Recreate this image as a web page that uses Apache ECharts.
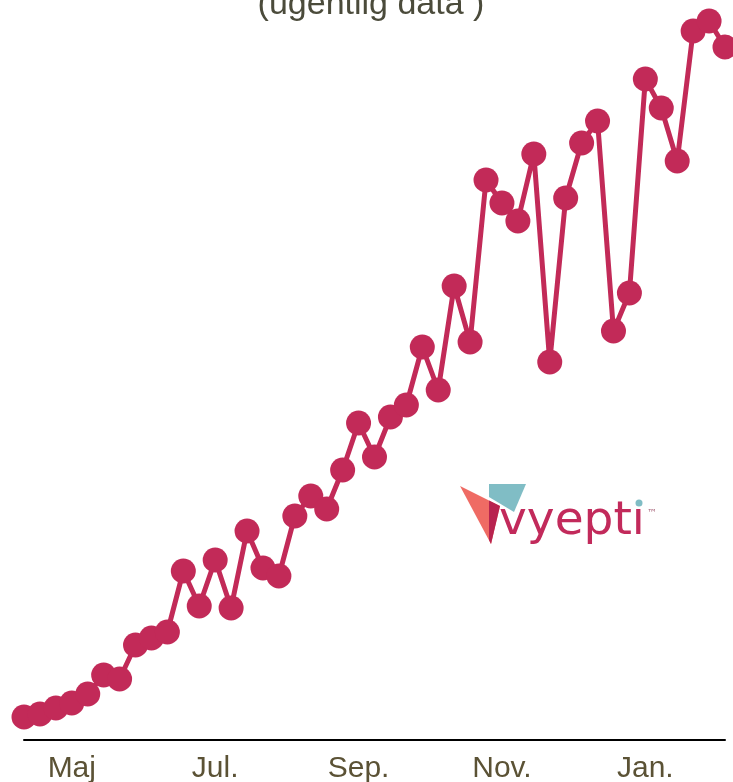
<!DOCTYPE html>
<html>
<head>
<meta charset="utf-8">
<script src="https://cdn.jsdelivr.net/npm/echarts@6/dist/echarts.min.js"></script>
<style>
  html, body { margin: 0; padding: 0; background: #fff; }
  #chart { width: 733px; height: 782px; }
</style>
</head>
<body>
<div id="chart"></div>
<script>
// weekly data points (index 0 = first week of April)
const weeks = [];
for (let i = 1; i <= 45; i++) weeks.push('Uge ' + i);
const values = [
  11.5, 13, 16, 18.5, 23, 32.5, 30.5, 47.5, 51, 54,
  84.5, 67, 90, 66, 104.5, 86, 82, 112, 122, 115.5,
  135, 158.5, 141.5, 161.5, 167.5, 196.5, 175, 227, 199, 280,
  268.5, 259.5, 293, 189, 271, 298.5, 309.5, 204.5, 223.5, 330.5,
  316, 289.5, 354.5, 359.5, 346.5
];
const tickIndex = [3, 12, 21, 30, 39];
const tickLabels = ['Maj', 'Jul.', 'Sep.', 'Nov.', 'Jan.'];

const chart = echarts.init(document.getElementById('chart'));
chart.setOption({
  animation: false,
  backgroundColor: '#fff',
  title: {
    text: '(ugentlig data )',
    left: 371,
    textAlign: 'center',
    top: -12,
    padding: 0,
    textStyle: {
      fontFamily: 'Liberation Sans',
      fontSize: 34,
      fontWeight: 'normal',
      color: '#4b4b3b'
    }
  },
  grid: { left: 24, right: 8, top: 0, bottom: 42, outerBoundsMode: 'none' },
  xAxis: {
    type: 'category',
    data: weeks,
    boundaryGap: false,
    axisLine: { lineStyle: { color: '#000', width: 2 } },
    axisTick: { show: false },
    axisLabel: {
      interval: (idx) => tickIndex.includes(idx),
      formatter: (v, idx) => tickLabels[tickIndex.indexOf(idx)] || '',
      fontFamily: 'Liberation Sans',
      fontSize: 30,
      color: '#5b5235',
      margin: 14
    }
  },
  yAxis: { type: 'value', min: 0, max: 370, show: false },
  series: [{
    type: 'line',
    data: values,
    symbol: 'circle',
    symbolSize: 25,
    showAllSymbol: true,
    lineStyle: { color: '#c22a58', width: 5 },
    itemStyle: { color: '#c22a58' }
  }],
  graphic: [
    { type: 'polygon', shape: { points: [[460, 486], [500, 506], [491, 544]] }, style: { fill: '#ef6b64' } },
    { type: 'polygon', shape: { points: [[489, 484], [526, 484], [514, 512], [489, 497]] }, style: { fill: '#80bdc5' } },
    { type: 'polygon', shape: { points: [[489, 500.5], [500, 506], [491, 544], [489, 540]] }, style: { fill: '#b8234f' } },
    { type: 'text', style: { text: 'vyeptı', x: 499, y: 522, font: '47px "DejaVu Sans"', fill: '#c22a5b', verticalAlign: 'middle', align: 'left' } },
    { type: 'circle', shape: { cx: 639, cy: 503, r: 3.5 }, style: { fill: '#80bdc5' } },
    { type: 'text', style: { text: '™', x: 647, y: 513, font: '10px "DejaVu Sans"', fill: '#a8647a', verticalAlign: 'middle', align: 'left' } }
  ]
});
</script>
</body>
</html>
